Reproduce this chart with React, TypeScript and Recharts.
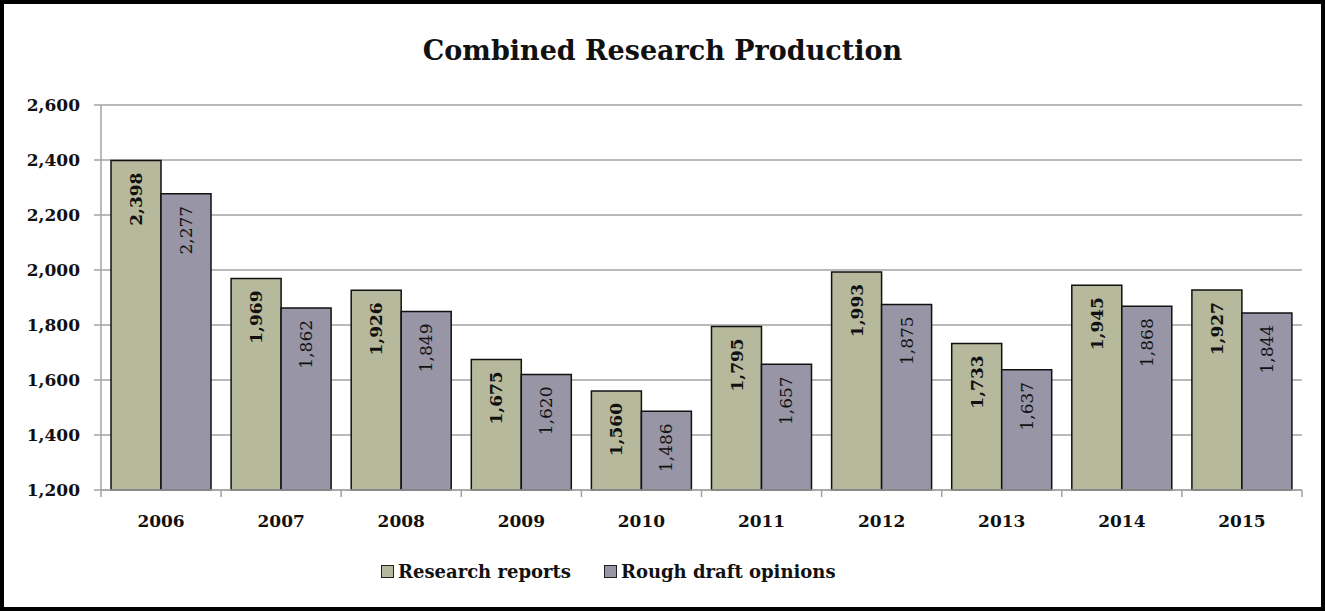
import React from 'react';
import { BarChart, Bar, XAxis, YAxis, CartesianGrid, Legend, LabelList } from 'recharts';

const years = ['2006', '2007', '2008', '2009', '2010', '2011', '2012', '2013', '2014', '2015'];
const researchReports = [2398, 1969, 1926, 1675, 1560, 1795, 1993, 1733, 1945, 1927];
const roughDrafts = [2277, 1862, 1849, 1620, 1486, 1657, 1875, 1637, 1868, 1844];
const yTicks = [1200, 1400, 1600, 1800, 2000, 2200, 2400, 2600];
// category boundaries for the tick marks under the x axis
const edgeTicks = [0, 1, 2, 3, 4, 5, 6, 7, 8, 9, 10];

const FONT = '"DejaVu Serif", "Liberation Serif", serif';
const GREEN = '#b6b99b';
const PURPLE = '#9795a6';
const GRID = '#a3a3a3';

const chartData = years.map((year, i) => ({
    year,
    order: i,
    reports: researchReports[i],
    drafts: roughDrafts[i],
}));

const fmt = (v: number) => v.toLocaleString('en-US');

const barLabel = (bold: boolean) => (props: any) => {
    const { x, y, width, value } = props;
    const cx = Number(x) + Number(width) / 2;
    const cy = Number(y) + 12;
    return (
        <text
            x={cx}
            y={cy}
            transform={`rotate(-90 ${cx} ${cy})`}
            textAnchor="end"
            dominantBaseline="central"
            fill="#111"
            fontFamily={FONT}
            fontSize={17}
            fontWeight={bold ? 'bold' : 'normal'}
        >
            {fmt(value)}
        </text>
    );
};

const renderLegend = (props: any) => {
    const { payload = [] } = props;
    return (
        <div style={{ display: 'flex', justifyContent: 'flex-start', paddingLeft: 381, gap: 33, fontFamily: FONT, fontWeight: 'bold', fontSize: 18, color: '#111' }}>
            {payload.map((entry: any) => (
                <span key={entry.value} style={{ display: 'flex', alignItems: 'center' }}>
                    <span style={{ width: 11, height: 11, background: entry.color, border: '1.5px solid #222', marginRight: 4 }} />
                    {entry.value}
                </span>
            ))}
        </div>
    );
};

const App: React.FC = () => {
    return (
        <div style={{ position: 'absolute', left: 0, top: 0, width: 1325, height: 611, background: '#fff', boxShadow: 'inset 0 0 0 4px #000' }}>
            <div style={{ position: 'absolute', top: 35, left: 0, width: 1325, textAlign: 'center', fontFamily: FONT, fontWeight: 'bold', fontSize: 27, color: '#111' }}>
                Combined Research Production
            </div>
            <BarChart
                width={1325}
                height={611}
                data={chartData}
                margin={{ top: 105, right: 23, left: 0, bottom: 81 }}
                barCategoryGap={10}
                barGap={0}
            >
                <CartesianGrid vertical={false} stroke={GRID} strokeWidth={1.5} />
                <XAxis
                    xAxisId="aEdge"
                    dataKey="order"
                    type="number"
                    domain={[0, 10]}
                    allowDataOverflow
                    ticks={edgeTicks}
                    interval={0}
                    tickFormatter={() => ''}
                    height={1}
                    stroke={GRID}
                    strokeWidth={1.5}
                    tickSize={7}
                />
                <XAxis
                    xAxisId="bYears"
                    dataKey="year"
                    height={39}
                    axisLine={false}
                    tickLine={false}
                    tickSize={0}
                    tickMargin={24}
                    tick={{ fill: '#111', fontSize: 17, fontWeight: 'bold', fontFamily: FONT }}
                />
                <YAxis
                    width={101}
                    domain={[1200, 2600]}
                    ticks={yTicks}
                    tickFormatter={fmt}
                    stroke={GRID}
                    strokeWidth={1.5}
                    tickSize={7}
                    tickMargin={14}
                    tick={{ fill: '#111', fontSize: 17, fontWeight: 'bold', fontFamily: FONT }}
                />
                <Legend
                    verticalAlign="middle"
                    align="center"
                    content={renderLegend}
                    wrapperStyle={{ top: 561, left: 0, width: 1325 }}
                />
                <Bar xAxisId="bYears" dataKey="reports" name="Research reports" fill={GREEN} stroke="#111" strokeWidth={1.5} isAnimationActive={false}>
                    <LabelList dataKey="reports" content={barLabel(true)} />
                </Bar>
                <Bar xAxisId="bYears" dataKey="drafts" name="Rough draft opinions" fill={PURPLE} stroke="#111" strokeWidth={1.5} isAnimationActive={false}>
                    <LabelList dataKey="drafts" content={barLabel(false)} />
                </Bar>
            </BarChart>
        </div>
    );
};

export default App;
